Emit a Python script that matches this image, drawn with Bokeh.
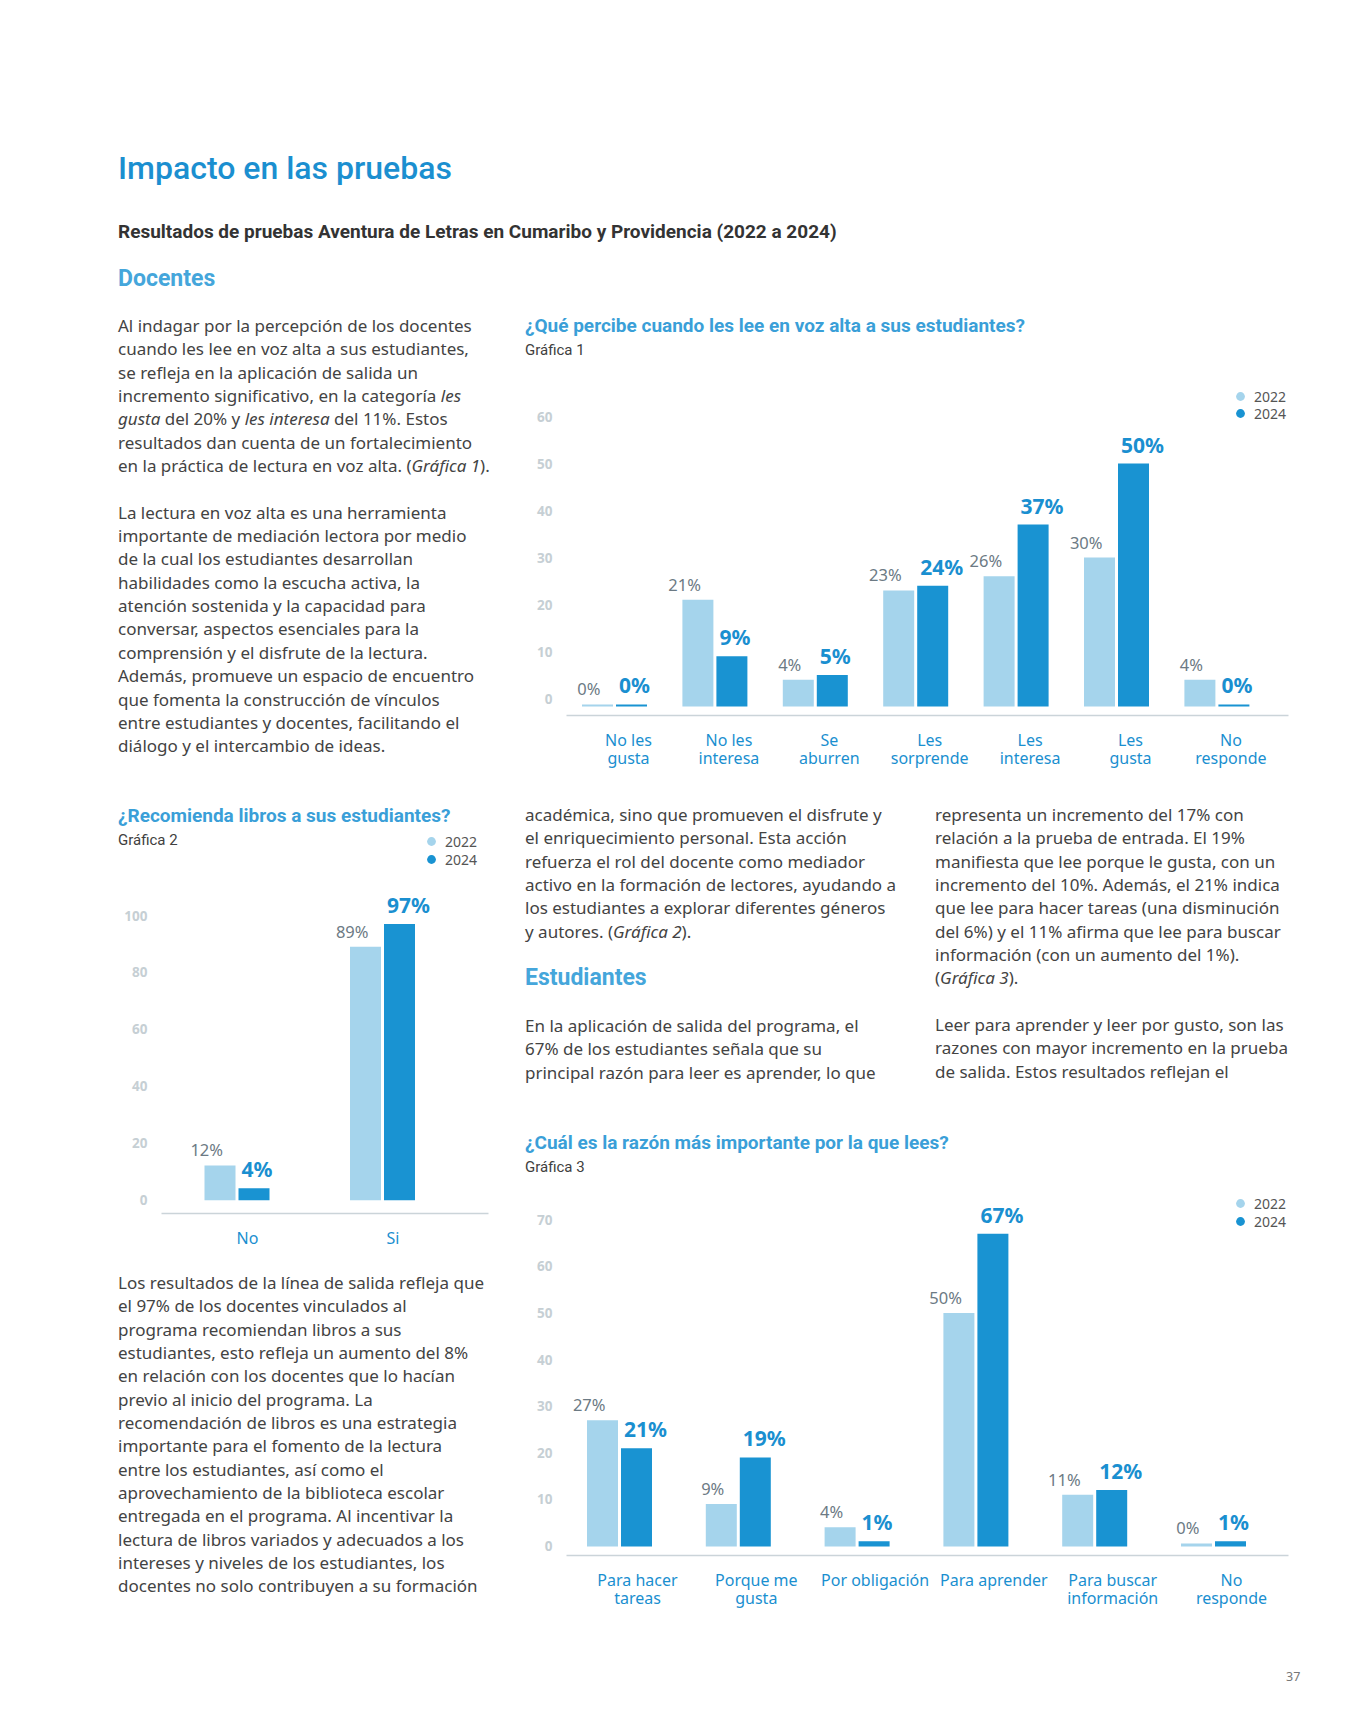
import numpy as np
from bokeh.plotting import figure
from bokeh.models import Range1d, FixedTicker, Legend, LegendItem, Div
from bokeh.layouts import column, row
from bokeh.embed import file_html
from bokeh.resources import INLINE
from bokeh.core.properties import value

# ---------------- data ----------------
YEARS = ["2022", "2024"]

CAT1 = ["No les\ngusta", "No les\ninteresa", "Se\naburren", "Les\nsorprende",
        "Les\ninteresa", "Les\ngusta", "No\nresponde"]
G1_2022 = [0, 21, 4, 23, 26, 30, 4]
G1_2024 = [0, 9, 5, 24, 37, 50, 0]
TICKS1 = [0, 10, 20, 30, 40, 50, 60]

CAT2 = ["No", "Si"]
G2_2022 = [12, 89]
G2_2024 = [4, 97]
TICKS2 = [0, 20, 40, 60, 80, 100]

CAT3 = ["Para hacer\ntareas", "Porque me\ngusta", "Por obligación", "Para aprender",
        "Para buscar\ninformación", "No\nresponde"]
G3_2022 = [27, 9, 4, 50, 11, 0]
G3_2024 = [21, 19, 1, 67, 12, 1]
TICKS3 = [0, 10, 20, 30, 40, 50, 60, 70]

# ---------------- style ----------------
LIGHT = "#a5d4ec"
DARK = "#1993d2"
BLUE_TXT = "#1a8fd0"
TITLE_BLUE = "#3a9fd8"
HEAD_BLUE = "#45a6db"
GREY_LBL = "#6c7a84"
TICK_GREY = "#c6cfd4"
AXIS_GREY = "#cbd4d9"
BODY = "#434343"
BAR_W = 31
BAR_STEP = 34


def bar_chart(cats, v22, v24, ticks, box, frame, zero_y, py, base, stub,
              tick0_x, unit_x, pair_off, leg_x, leg_cys, top_margin):
    wx, wy, w, h = box
    fl, fr, ft, fb = frame
    p = figure(width=w, height=h, output_backend="svg", toolbar_location=None,
               min_border_left=int(fl - wx), min_border_right=int(wx + w - fr),
               min_border_top=int(ft - wy), min_border_bottom=int(wy + h - fb),
               x_range=Range1d((fl - tick0_x) / unit_x, (fr - tick0_x) / unit_x),
               y_range=Range1d((zero_y - fb) / py, (zero_y - ft) / py),
               margin=(-top_margin, 0, 0, 0))
    p.outline_line_color = None
    p.background_fill_color = None
    p.border_fill_color = None
    p.xgrid.grid_line_color = None
    p.ygrid.grid_line_color = None

    idx = np.arange(len(cats))
    bw = BAR_W / unit_x
    x22 = idx + (pair_off - BAR_STEP / 2) / unit_x
    x24 = idx + (pair_off + BAR_STEP / 2) / unit_x
    t22 = [v if v > 0 else base + stub for v in v22]
    t24 = [v if v > 0 else base + stub for v in v24]

    p.vbar(x=x22, top=t22, bottom=base, width=bw, fill_color=LIGHT, line_color=None)
    p.vbar(x=x24, top=t24, bottom=base, width=bw, fill_color=DARK, line_color=None)

    p.text(x=x22, y=t22, text=[f"{v}%" for v in v22], x_offset=3, y_offset=-15.5,
           text_align="right", text_baseline="middle", text_font=value("Noto Sans"),
           text_font_size="16.5px", text_color=GREY_LBL)
    p.text(x=x24 - bw / 2, y=t24, text=[f"{v}%" for v in v24], x_offset=3, y_offset=-19,
           text_align="left", text_baseline="middle", text_font=value("Noto Sans"),
           text_font_style="bold", text_font_size="21px", text_color=BLUE_TXT)

    xa = p.xaxis[0]
    xa.ticker = FixedTicker(ticks=list(range(len(cats))))
    xa.major_label_overrides = {i: c for i, c in enumerate(cats)}
    xa.axis_line_color = AXIS_GREY
    xa.axis_line_width = 1.5
    xa.major_tick_line_color = None
    xa.minor_tick_line_color = None
    xa.major_tick_out = 0
    xa.major_tick_in = 0
    xa.major_label_standoff = 13
    xa.major_label_text_font = "Noto Sans"
    xa.major_label_text_font_size = "16px"
    xa.major_label_text_color = BLUE_TXT
    xa.major_label_text_line_height = 0.83

    ya = p.yaxis[0]
    ya.ticker = FixedTicker(ticks=ticks)
    ya.axis_line_color = None
    ya.major_tick_line_color = None
    ya.minor_tick_line_color = None
    ya.major_tick_out = 0
    ya.major_tick_in = 0
    ya.major_label_standoff = 14
    ya.major_label_text_font = "Noto Sans"
    ya.major_label_text_font_style = "bold"
    ya.major_label_text_font_size = "13.5px"
    ya.major_label_text_color = TICK_GREY

    for yr, col, cy in zip(YEARS, [LIGHT, DARK], leg_cys):
        # legend-only renderer (its single point is NaN, so nothing is drawn in the plot)
        r = p.scatter(x=[np.nan], y=[np.nan], marker="circle", size=9,
                      fill_color=col, line_color=None)
        leg = Legend(items=[LegendItem(label=yr, renderers=[r])],
                     location=(leg_x - 11 - fl, fb - (cy + 11)),
                     glyph_width=22, glyph_height=22, label_height=22, label_width=10,
                     label_standoff=3, padding=0, margin=0, spacing=0,
                     border_line_color=None, background_fill_alpha=0,
                     label_text_font="Noto Sans", label_text_font_size="14px",
                     label_text_color="#555555")
        p.add_layout(leg)
    return p


def block(left, top, lines, size=17.0, lh=23.35, color=BODY, font="'Noto Sans'", weight=400):
    return (f'<div style="position:absolute;left:{left}px;top:{top}px;font-family:{font};'
            f'font-size:{size}px;line-height:{lh}px;color:{color};font-weight:{weight};'
            f'white-space:nowrap;">' + "<br>".join(lines) + "</div>")


def text_div(w, h, *blocks):
    return Div(text=f'<div style="position:relative;width:{w}px;height:{h}px;">'
               + "".join(blocks) + "</div>", width=w, height=h, margin=(0, 0, 0, 0))


def chart_title_div(w, h, left, title, t_top, subtitle, s_top):
    return text_div(w, h,
                    block(left, t_top, [title], size=19, lh=24, color=TITLE_BLUE,
                          font="Roboto", weight=700),
                    block(left, s_top, [subtitle], size=15, lh=20, color="#404040",
                          font="Roboto", weight=400))


# ---------------- texts ----------------
header = text_div(
    1343, 297,
    block(110, 140, ["Impacto en las pruebas"], size=32, lh=40, color="#1b8fd0",
          font="Roboto", weight=500),
    block(110, 212, ["Resultados de pruebas Aventura de Letras en Cumaribo y Providencia (2022 a 2024)"],
          size=19, lh=24, color="#333333", font="Roboto", weight=700),
    block(110, 256, ["Docentes"], size=23, lh=30, color=HEAD_BLUE, font="Roboto", weight=700),
)

P1 = ["Al indagar por la percepción de los docentes",
      "cuando les lee en voz alta a sus estudiantes,",
      "se refleja en la aplicación de salida un",
      "incremento significativo, en la categoría <i>les</i>",
      "<i>gusta</i> del 20% y <i>les interesa</i> del 11%. Estos",
      "resultados dan cuenta de un fortalecimiento",
      "en la práctica de lectura en voz alta. (<i>Gráfica 1</i>).",
      "",
      "La lectura en voz alta es una herramienta",
      "importante de mediación lectora por medio",
      "de la cual los estudiantes desarrollan",
      "habilidades como la escucha activa, la",
      "atención sostenida y la capacidad para",
      "conversar, aspectos esenciales para la",
      "comprensión y el disfrute de la lectura.",
      "Además, promueve un espacio de encuentro",
      "que fomenta la construcción de vínculos",
      "entre estudiantes y docentes, facilitando el",
      "diálogo y el intercambio de ideas."]
div1 = text_div(492, 485, block(110, 9, P1))

P2 = ["académica, sino que promueven el disfrute y",
      "el enriquecimiento personal. Esta acción",
      "refuerza el rol del docente como mediador",
      "activo en la formación de lectores, ayudando a",
      "los estudiantes a explorar diferentes géneros",
      "y autores. (<i>Gráfica 2</i>)."]
P2b = ["En la aplicación de salida del programa, el",
       "67% de los estudiantes señala que su",
       "principal razón para leer es aprender, lo que"]
div2 = text_div(410, 335, block(25, 13, P2),
                block(25, 173, ["Estudiantes"], size=23, lh=30, color=HEAD_BLUE,
                      font="Roboto", weight=700),
                block(25, 224, P2b))

P3 = ["representa un incremento del 17% con",
      "relación a la prueba de entrada. El 19%",
      "manifiesta que lee porque le gusta, con un",
      "incremento del 10%. Además, el 21% indica",
      "que lee para hacer tareas (una disminución",
      "del 6%) y el 11% afirma que lee para buscar",
      "información (con un aumento del 1%).",
      "(<i>Gráfica 3</i>).",
      "",
      "Leer para aprender y leer por gusto, son las",
      "razones con mayor incremento en la prueba",
      "de salida. Estos resultados reflejan el"]
div3 = text_div(400, 335, block(25, 13, P3))

P4 = ["Los resultados de la línea de salida refleja que",
      "el 97% de los docentes vinculados al",
      "programa recomiendan libros a sus",
      "estudiantes, esto refleja un aumento del 8%",
      "en relación con los docentes que lo hacían",
      "previo al inicio del programa. La",
      "recomendación de libros es una estrategia",
      "importante para el fomento de la lectura",
      "entre los estudiantes, así como el",
      "aprovechamiento de la biblioteca escolar",
      "entregada en el programa. Al incentivar la",
      "lectura de libros variados y adecuados a los",
      "intereses y niveles de los estudiantes, los",
      "docentes no solo contribuyen a su formación"]
div4 = text_div(492, 395, block(110, 16, P4))

pagenum = text_div(1343, 45, block(1278, 18, ["37"], size=12.5, lh=18, color="#777777"))

# ---------------- charts ----------------
T1H, T2H, T3H = 60, 62, 65
title1 = chart_title_div(810, T1H, 25, "¿Qué percibe cuando les lee en voz alta a sus estudiantes?",
                         9, "Gráfica 1", 35)
chart1 = bar_chart(CAT1, G1_2022, G1_2024, TICKS1,
                   box=(500, 305, 810, 485), frame=(566, 1288, 365, 715),
                   zero_y=698, py=4.7, base=-1.7, stub=0.43,
                   tick0_x=628, unit_x=100.4, pair_off=-14,
                   leg_x=1240, leg_cys=[396, 413], top_margin=T1H)

title2 = chart_title_div(492, T2H, 110, "¿Recomienda libros a sus estudiantes?",
                         14, "Gráfica 2", 40)
chart2 = bar_chart(CAT2, G2_2022, G2_2024, TICKS2,
                   box=(8, 790, 492, 465), frame=(161, 488, 830, 1213),
                   zero_y=1199, py=2.84, base=-0.3, stub=0.6,
                   tick0_x=247, unit_x=145.5, pair_off=-10.5,
                   leg_x=431, leg_cys=[841, 859], top_margin=T2H)

title3 = chart_title_div(810, T3H, 25, "¿Cuál es la razón más importante por la que lees?",
                         6, "Gráfica 3", 32)
chart3 = bar_chart(CAT3, G3_2022, G3_2024, TICKS3,
                   box=(500, 1125, 810, 525), frame=(566, 1288, 1190, 1555),
                   zero_y=1545.5, py=4.66, base=-0.1, stub=0.64,
                   tick0_x=637, unit_x=118.8, pair_off=-18,
                   leg_x=1240, leg_cys=[1203, 1221], top_margin=T3H)

page = column(
    header,
    row(div1, column(title1, chart1, spacing=0), spacing=0),
    row(column(column(title2, chart2, spacing=0), div4, spacing=0),
        column(row(div2, div3, spacing=0), column(title3, chart3, spacing=0), spacing=0),
        spacing=0),
    pagenum,
    spacing=0,
    margin=(8, 0, 0, 8),
)

open("out.html", "w").write(file_html(page, INLINE, title="Impacto en las pruebas"))
